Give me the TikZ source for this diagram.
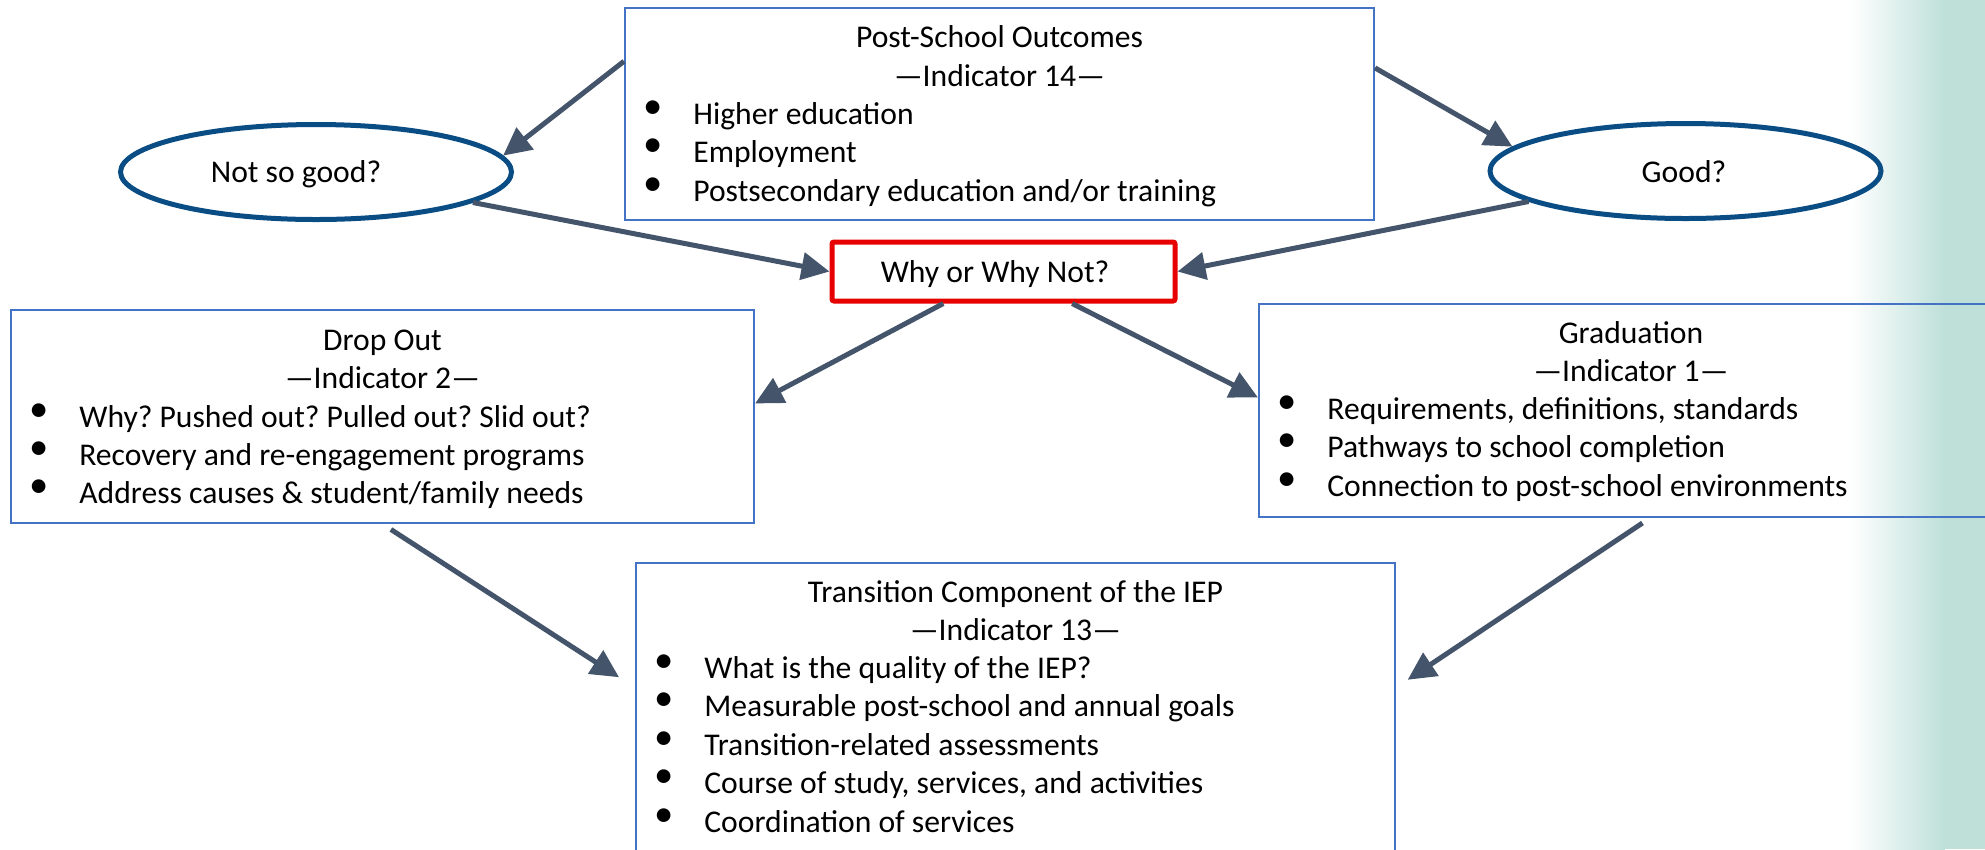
\documentclass[tikz,border=0pt]{standalone}
\usepackage{fontspec}
\setmainfont{Carlito}
\usepackage{tikz}
\usetikzlibrary{shapes,arrows.meta}
\definecolor{BoxBlue}{HTML}{4472C4}
\definecolor{OvalBlue}{HTML}{0A4D84}
\definecolor{ArrowGrey}{HTML}{44546A}
\definecolor{AlertRed}{HTML}{E60000}
\definecolor{SideTeal}{HTML}{BEE0D9}
\frenchspacing

\tikzset{
	box/.style 2 args={draw=BoxBlue, line width=0.4mm, inner sep=0pt, minimum width=#1*0.2mm, minimum height=#2*0.2mm},
	oval/.style={ellipse, draw=OvalBlue, fill=white, line width=1mm, inner sep=0pt, minimum width=391*0.2mm, minimum height=95*0.2mm},
	link/.style={draw=ArrowGrey, line width=1mm, -{Triangle[length=5.6mm, width=5.4mm]}},
	txt/.style={anchor=base, inner sep=0pt, font=\fontsize{18}{21.6}\selectfont},
	dot/.style={anchor=base, inner sep=0pt, font=\fontsize{22}{22}\selectfont},
}

\begin{document}
\begin{tikzpicture}[x=0.2mm,y=-0.2mm]
	\useasboundingbox (0,0) rectangle (1985,849);

	% teal band on the right
	\shade[left color=white, right color=SideTeal] (1850,0) rectangle (1945,849);
	\fill[SideTeal] (1945,0) rectangle (1985,849);

	% frames
	\node[box={749}{212}] (outcomes) at (999.5,114) {};
	\node[box={743}{213}] (dropout) at (382.5,416.5) {};
	\node[box={744}{213}] (grad) at (1631,410.5) {};
	\node[box={759}{289}] (iep) at (1015.5,707.5) {};
	\node[oval] (notgood) at (316,172) {};
	\node[oval] (good) at (1685.5,171) {};
	\node[draw=AlertRed, line width=1mm, rounded corners=0.4mm, inner sep=0pt, minimum width=343*0.2mm, minimum height=59*0.2mm] (why) at (1003.5,271.5) {};

	\node[txt] (notgood-txt) at (296,182) {Not so good?};
	\node[txt] (good-txt) at (1684,182) {Good?};
	\node[txt] (why-txt) at (995,282) {Why or Why Not?};

	% titles
	\foreach \x/\y/\title [count=\i] in {
		999.5/47/Post-School Outcomes, 999.5/86/—Indicator 14—,
		382.5/350/Drop Out, 382.5/388/—Indicator 2—,
		1631/343/Graduation, 1631/381/—Indicator 1—,
		1015.5/602/Transition Component of the IEP, 1015.5/640/—Indicator 13—
	}{
		\node[txt] (title-\i) at (\x,\y) {\title};
	}

	% bullet lists
	\foreach \x/\y/\point [count=\i] in {
		625/124/{Higher education},
		625/162/{Employment},
		625/201/{Postsecondary education and/or training},
		11/427/{Why? Pushed out? Pulled out? Slid out?},
		11/465/{Recovery and re-engagement programs},
		11/503/{Address causes \& student/family needs},
		1259/419/{Requirements, definitions, standards},
		1259/457/{Pathways to school completion},
		1259/496/{Connection to post-school environments},
		636/678/{What is the quality of the IEP?},
		636/716/{Measurable post-school and annual goals},
		636/755/{Transition-related assessments},
		636/793/{Course of study, services, and activities},
		636/832/{Coordination of services}
	}{
		\node[dot] (bullet-\i) at (\x+28,\y-6) {•};
		\node[txt, anchor=base west] (point-\i) at (\x+68,\y) {\point};
	}

	% arrows
	\draw[link] (outcomes.172.8) -- (notgood.5);
	\draw[link] (outcomes.7.5) -- (good.172);
	\draw[link] (notgood.349) -- (why.west);
	\draw[link] (good.191) -- (why.east);
	\draw[link] (why.208) -- (dropout.2.4);
	\draw[link] (why.335) -- (grad.178.7);
	\draw[link, shorten <=2mm, shorten >=3.8mm] (dropout.south) -- (iep.177);
	\draw[link, shorten <=1.8mm, shorten >=2.8mm] (grad.280) -- (iep.3);
\end{tikzpicture}
\end{document}
